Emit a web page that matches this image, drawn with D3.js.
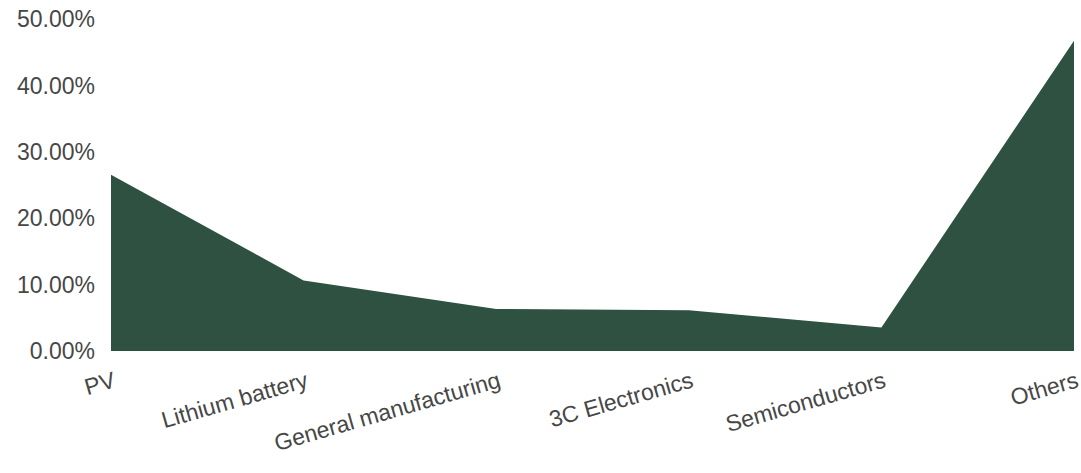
<!DOCTYPE html>
<html>
<head>
<meta charset="utf-8">
<script src="https://cdn.jsdelivr.net/npm/d3@7"></script>
<style>
  html, body { margin: 0; padding: 0; background: #fff; }
  svg { display: block; }
  text { font-family: "Liberation Sans", Arial, sans-serif; }
</style>
</head>
<body>
<svg id="chart" width="1081" height="473"></svg>
<script>
const categories = ["PV", "Lithium battery", "General manufacturing", "3C Electronics", "Semiconductors", "Others"];
const shares = [0.266, 0.1065, 0.0635, 0.0615, 0.0355, 0.468];
const yTicks = [0, 0.1, 0.2, 0.3, 0.4, 0.5];

const svg = d3.select("#chart");
const x = d3.scalePoint().domain(categories).range([111, 1074]);
const y = d3.scaleLinear().domain([0, 0.5]).range([351, 19.5]);

const data = categories.map((c, i) => ({ c, v: shares[i] }));

const area = d3.area()
  .x(d => x(d.c))
  .y0(y(0))
  .y1(d => y(d.v));

svg.append("path")
  .datum(data)
  .attr("d", area)
  .attr("fill", "#2e5142");

// Y axis
const yAxis = d3.axisLeft(y)
  .tickValues(yTicks)
  .tickFormat(d => (d * 100).toFixed(2) + "%")
  .tickSize(0)
  .tickPadding(0);

const gy = svg.append("g").attr("transform", "translate(95,0)").call(yAxis);
gy.select(".domain").remove();
gy.selectAll("text")
  .attr("font-size", 23)
  .attr("fill", "#474747")
  .attr("font-family", "Liberation Sans, Arial, sans-serif");

// X axis
const xAxis = d3.axisBottom(x).tickSize(0).tickPadding(0);
const gx = svg.append("g").attr("transform", "translate(0,351)").call(xAxis);
gx.select(".domain").remove();
gx.selectAll(".tick text")
  .attr("font-size", 23)
  .attr("fill", "#474747")
  .attr("font-family", "Liberation Sans, Arial, sans-serif")
  .attr("text-anchor", "end")
  .attr("dy", "0.35em")
  .attr("y", 0)
  .attr("transform", "translate(3,28) rotate(-16)");
</script>
</body>
</html>
